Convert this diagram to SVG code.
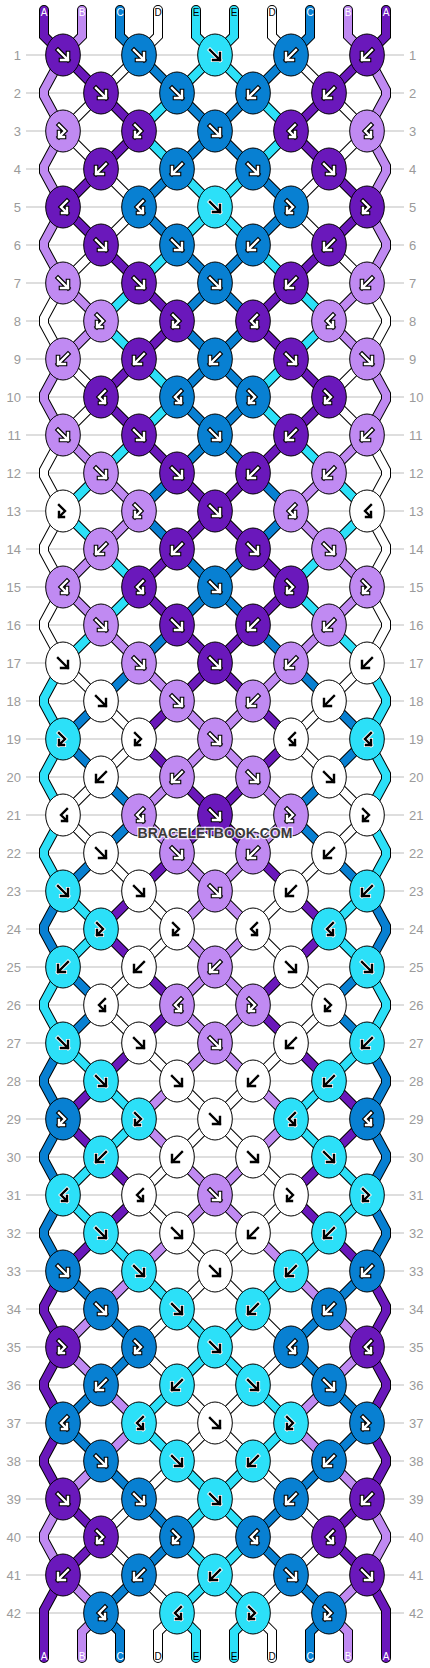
<svg xmlns="http://www.w3.org/2000/svg" width="430" height="1668" viewBox="0 0 430 1668">
<style>
.rl{fill:none;stroke:#bdbdbd;stroke-width:1}
.rn{font-family:"Liberation Sans",Arial,sans-serif;font-size:13px;fill:#9a9a9a}
.rnl{text-anchor:end}
.o{fill:none;stroke:#000;stroke-width:10;stroke-linejoin:miter;stroke-linecap:round}
.s{fill:none;stroke-width:8;stroke-linejoin:miter;stroke-linecap:round}
.sA{stroke:#6a18bb}.sB{stroke:#c08af2}.sC{stroke:#0880d2}.sD{stroke:#fff}.sE{stroke:#2ce0f8}
.cA{fill:#6a18bb}.cB{fill:#c08af2}.cC{fill:#0880d2}.cD{fill:#fff}.cE{fill:#2ce0f8}
.g1w{fill:none;stroke:#000;stroke-width:4.6;stroke-linecap:square;stroke-linejoin:miter}
.g2w{fill:none;stroke:#fff;stroke-width:2.4;stroke-linecap:square;stroke-linejoin:miter}
.g1k{fill:none;stroke:#fff;stroke-width:4.2;stroke-linecap:square;stroke-linejoin:miter}
.g2k{fill:none;stroke:#000;stroke-width:2.4;stroke-linecap:square;stroke-linejoin:miter}
.lb{font-family:"Liberation Sans",Arial,sans-serif;font-size:10px;text-anchor:middle}
.lw{fill:#fff}.lk{fill:#000}
.wm{font-family:"Liberation Sans",Arial,sans-serif;font-size:14px;font-weight:bold;text-anchor:middle;fill:#3a3a3a;stroke:#fff;stroke-width:2.5;stroke-opacity:0.8;paint-order:stroke}
</style>
<defs>
<path id="tA" d="M44,10L44,36L63,55L101,93L139,131L101,169L63,207L101,245L139,283L177,321L139,359L101,397L139,435L177,473L215,511L177,549L139,587L177,625L215,663L177,701L139,739L177,777L215,815L177,853L139,891L101,929L139,967L177,1005L139,1043L101,1081L63,1119L101,1157L139,1195L101,1233L63,1271L44,1306L44,1312L63,1347L44,1382L44,1388L63,1423L44,1458L44,1464L63,1499L101,1537L63,1575L44,1610L44,1658"/>
<path id="tB" d="M82,10L82,36L63,55L44,90L44,96L63,131L44,166L44,172L63,207L44,242L44,248L63,283L101,321L63,359L44,394L44,400L63,435L101,473L139,511L101,549L63,587L101,625L139,663L177,701L215,739L177,777L139,815L177,853L215,891L177,929L215,967L177,1005L215,1043L177,1081L139,1119L177,1157L215,1195L177,1233L139,1271L101,1309L63,1347L101,1385L139,1423L101,1461L63,1499L44,1534L44,1540L63,1575L101,1613L82,1632L82,1658"/>
<path id="tC" d="M120,10L120,36L139,55L177,93L215,131L177,169L139,207L177,245L215,283L177,321L215,359L177,397L215,435L177,473L139,511L177,549L215,587L177,625L139,663L101,701L63,739L101,777L139,815L101,853L63,891L44,926L44,932L63,967L101,1005L63,1043L44,1078L44,1084L63,1119L44,1154L44,1160L63,1195L44,1230L44,1236L63,1271L101,1309L139,1347L101,1385L63,1423L101,1461L139,1499L177,1537L139,1575L101,1613L120,1632L120,1658"/>
<path id="tD" d="M158,10L158,36L139,55L101,93L63,131L101,169L139,207L101,245L63,283L44,318L44,324L63,359L101,397L63,435L44,470L44,476L63,511L44,546L44,552L63,587L44,622L44,628L63,663L101,701L139,739L101,777L63,815L101,853L139,891L177,929L139,967L101,1005L139,1043L177,1081L215,1119L177,1157L139,1195L177,1233L215,1271L177,1309L139,1347L177,1385L215,1423L177,1461L139,1499L101,1537L139,1575L177,1613L158,1632L158,1658"/>
<path id="tE" d="M196,10L196,36L215,55L177,93L139,131L177,169L215,207L177,245L139,283L101,321L139,359L177,397L139,435L101,473L63,511L101,549L139,587L101,625L63,663L44,698L44,704L63,739L44,774L44,780L63,815L44,850L44,856L63,891L101,929L63,967L44,1002L44,1008L63,1043L101,1081L139,1119L101,1157L63,1195L101,1233L139,1271L177,1309L215,1347L177,1385L139,1423L177,1461L215,1499L177,1537L215,1575L177,1613L196,1632L196,1658"/>
<ellipse id="k" cx="0" cy="0" rx="17.3" ry="21" stroke="#000" stroke-width="1"/>
<path id="pf" d="M-5,-5L5,5M5,-2V5H-2"/>
<path id="pb" d="M5,-5L-5,5M-5,-2V5H2"/>
<path id="pfb" d="M-4,-6L2,0L-4,6M-4,1V6H1"/>
<path id="pbf" d="M4,-6L-2,0L4,6M4,1V6H-1"/>
<g id="fW"><use href="#pf" class="g1w"/><use href="#pf" class="g2w"/></g>
<g id="bW"><use href="#pb" class="g1w"/><use href="#pb" class="g2w"/></g>
<g id="fbW"><use href="#pfb" class="g1w"/><use href="#pfb" class="g2w"/></g>
<g id="bfW"><use href="#pbf" class="g1w"/><use href="#pbf" class="g2w"/></g>
<g id="fK"><use href="#pf" class="g1k"/><use href="#pf" class="g2k"/></g>
<g id="bK"><use href="#pb" class="g1k"/><use href="#pb" class="g2k"/></g>
<g id="fbK"><use href="#pfb" class="g1k"/><use href="#pfb" class="g2k"/></g>
<g id="bfK"><use href="#pbf" class="g1k"/><use href="#pbf" class="g2k"/></g>
</defs>
<rect width="430" height="1668" fill="#fff"/>
<g id="rowlines">
<path class="rl" d="M26,55H404M26,93H404M26,131H404M26,169H404M26,207H404M26,245H404M26,283H404M26,321H404M26,359H404M26,397H404M26,435H404M26,473H404M26,511H404M26,549H404M26,587H404M26,625H404M26,663H404M26,701H404M26,739H404M26,777H404M26,815H404M26,853H404M26,891H404M26,929H404M26,967H404M26,1005H404M26,1043H404M26,1081H404M26,1119H404M26,1157H404M26,1195H404M26,1233H404M26,1271H404M26,1309H404M26,1347H404M26,1385H404M26,1423H404M26,1461H404M26,1499H404M26,1537H404M26,1575H404M26,1613H404"/>
</g>
<g id="rownumbers" class="rn">
<g class="rnl">
<text x="21" y="59.5">1</text><text x="21" y="97.5">2</text><text x="21" y="135.5">3</text><text x="21" y="173.5">4</text><text x="21" y="211.5">5</text><text x="21" y="249.5">6</text><text x="21" y="287.5">7</text><text x="21" y="325.5">8</text><text x="21" y="363.5">9</text><text x="21" y="401.5">10</text><text x="21" y="439.5">11</text><text x="21" y="477.5">12</text><text x="21" y="515.5">13</text><text x="21" y="553.5">14</text><text x="21" y="591.5">15</text><text x="21" y="629.5">16</text><text x="21" y="667.5">17</text><text x="21" y="705.5">18</text><text x="21" y="743.5">19</text><text x="21" y="781.5">20</text><text x="21" y="819.5">21</text><text x="21" y="857.5">22</text><text x="21" y="895.5">23</text><text x="21" y="933.5">24</text><text x="21" y="971.5">25</text><text x="21" y="1009.5">26</text><text x="21" y="1047.5">27</text><text x="21" y="1085.5">28</text><text x="21" y="1123.5">29</text><text x="21" y="1161.5">30</text><text x="21" y="1199.5">31</text><text x="21" y="1237.5">32</text><text x="21" y="1275.5">33</text><text x="21" y="1313.5">34</text><text x="21" y="1351.5">35</text><text x="21" y="1389.5">36</text><text x="21" y="1427.5">37</text><text x="21" y="1465.5">38</text><text x="21" y="1503.5">39</text><text x="21" y="1541.5">40</text><text x="21" y="1579.5">41</text><text x="21" y="1617.5">42</text>
</g>
<g>
<text x="409" y="59.5">1</text><text x="409" y="97.5">2</text><text x="409" y="135.5">3</text><text x="409" y="173.5">4</text><text x="409" y="211.5">5</text><text x="409" y="249.5">6</text><text x="409" y="287.5">7</text><text x="409" y="325.5">8</text><text x="409" y="363.5">9</text><text x="409" y="401.5">10</text><text x="409" y="439.5">11</text><text x="409" y="477.5">12</text><text x="409" y="515.5">13</text><text x="409" y="553.5">14</text><text x="409" y="591.5">15</text><text x="409" y="629.5">16</text><text x="409" y="667.5">17</text><text x="409" y="705.5">18</text><text x="409" y="743.5">19</text><text x="409" y="781.5">20</text><text x="409" y="819.5">21</text><text x="409" y="857.5">22</text><text x="409" y="895.5">23</text><text x="409" y="933.5">24</text><text x="409" y="971.5">25</text><text x="409" y="1009.5">26</text><text x="409" y="1047.5">27</text><text x="409" y="1085.5">28</text><text x="409" y="1123.5">29</text><text x="409" y="1161.5">30</text><text x="409" y="1199.5">31</text><text x="409" y="1237.5">32</text><text x="409" y="1275.5">33</text><text x="409" y="1313.5">34</text><text x="409" y="1351.5">35</text><text x="409" y="1389.5">36</text><text x="409" y="1427.5">37</text><text x="409" y="1465.5">38</text><text x="409" y="1503.5">39</text><text x="409" y="1541.5">40</text><text x="409" y="1579.5">41</text><text x="409" y="1617.5">42</text>
</g>
</g>
<g id="connectors">
<g id="strings-left">
<use href="#tA" class="o"/><use href="#tA" class="s sA"/>
<use href="#tB" class="o"/><use href="#tB" class="s sB"/>
<use href="#tC" class="o"/><use href="#tC" class="s sC"/>
<use href="#tD" class="o"/><use href="#tD" class="s sD"/>
<use href="#tE" class="o"/><use href="#tE" class="s sE"/>
</g>
<use href="#strings-left" transform="matrix(-1 0 0 1 430 0)"/>
</g>
<g id="string-labels" class="lb">
<text class="lw" x="44" y="16">A</text><text class="lw" x="82" y="16">B</text><text class="lw" x="120" y="16">C</text><text class="lk" x="158" y="16">D</text><text class="lk" x="196" y="16">E</text><text class="lk" x="234" y="16">E</text><text class="lk" x="272" y="16">D</text><text class="lw" x="310" y="16">C</text><text class="lw" x="348" y="16">B</text><text class="lw" x="386" y="16">A</text>
<text class="lw" x="44" y="1660">A</text><text class="lw" x="82" y="1660">B</text><text class="lw" x="120" y="1660">C</text><text class="lk" x="158" y="1660">D</text><text class="lk" x="196" y="1660">E</text><text class="lk" x="234" y="1660">E</text><text class="lk" x="272" y="1660">D</text><text class="lw" x="310" y="1660">C</text><text class="lw" x="348" y="1660">B</text><text class="lw" x="386" y="1660">A</text>
</g>
<g id="knots">
<g id="k1-1" transform="translate(63 55)"><use href="#k" class="cA"/><use href="#fW"/></g>
<g id="k1-2" transform="translate(139 55)"><use href="#k" class="cC"/><use href="#fW"/></g>
<g id="k1-3" transform="translate(215 55)"><use href="#k" class="cE"/><use href="#fK"/></g>
<g id="k1-4" transform="translate(291 55)"><use href="#k" class="cC"/><use href="#bW"/></g>
<g id="k1-5" transform="translate(367 55)"><use href="#k" class="cA"/><use href="#bW"/></g>
<g id="k2-1" transform="translate(101 93)"><use href="#k" class="cA"/><use href="#fW"/></g>
<g id="k2-2" transform="translate(177 93)"><use href="#k" class="cC"/><use href="#fW"/></g>
<g id="k2-3" transform="translate(253 93)"><use href="#k" class="cC"/><use href="#bW"/></g>
<g id="k2-4" transform="translate(329 93)"><use href="#k" class="cA"/><use href="#bW"/></g>
<g id="k3-1" transform="translate(63 131)"><use href="#k" class="cB"/><use href="#fbW"/></g>
<g id="k3-2" transform="translate(139 131)"><use href="#k" class="cA"/><use href="#fbW"/></g>
<g id="k3-3" transform="translate(215 131)"><use href="#k" class="cC"/><use href="#fW"/></g>
<g id="k3-4" transform="translate(291 131)"><use href="#k" class="cA"/><use href="#bfW"/></g>
<g id="k3-5" transform="translate(367 131)"><use href="#k" class="cB"/><use href="#bfW"/></g>
<g id="k4-1" transform="translate(101 169)"><use href="#k" class="cA"/><use href="#bW"/></g>
<g id="k4-2" transform="translate(177 169)"><use href="#k" class="cC"/><use href="#bW"/></g>
<g id="k4-3" transform="translate(253 169)"><use href="#k" class="cC"/><use href="#fW"/></g>
<g id="k4-4" transform="translate(329 169)"><use href="#k" class="cA"/><use href="#fW"/></g>
<g id="k5-1" transform="translate(63 207)"><use href="#k" class="cA"/><use href="#bfW"/></g>
<g id="k5-2" transform="translate(139 207)"><use href="#k" class="cC"/><use href="#bfW"/></g>
<g id="k5-3" transform="translate(215 207)"><use href="#k" class="cE"/><use href="#fK"/></g>
<g id="k5-4" transform="translate(291 207)"><use href="#k" class="cC"/><use href="#fbW"/></g>
<g id="k5-5" transform="translate(367 207)"><use href="#k" class="cA"/><use href="#fbW"/></g>
<g id="k6-1" transform="translate(101 245)"><use href="#k" class="cA"/><use href="#fW"/></g>
<g id="k6-2" transform="translate(177 245)"><use href="#k" class="cC"/><use href="#fW"/></g>
<g id="k6-3" transform="translate(253 245)"><use href="#k" class="cC"/><use href="#bW"/></g>
<g id="k6-4" transform="translate(329 245)"><use href="#k" class="cA"/><use href="#bW"/></g>
<g id="k7-1" transform="translate(63 283)"><use href="#k" class="cB"/><use href="#fW"/></g>
<g id="k7-2" transform="translate(139 283)"><use href="#k" class="cA"/><use href="#fW"/></g>
<g id="k7-3" transform="translate(215 283)"><use href="#k" class="cC"/><use href="#fW"/></g>
<g id="k7-4" transform="translate(291 283)"><use href="#k" class="cA"/><use href="#bW"/></g>
<g id="k7-5" transform="translate(367 283)"><use href="#k" class="cB"/><use href="#bW"/></g>
<g id="k8-1" transform="translate(101 321)"><use href="#k" class="cB"/><use href="#fbW"/></g>
<g id="k8-2" transform="translate(177 321)"><use href="#k" class="cA"/><use href="#fbW"/></g>
<g id="k8-3" transform="translate(253 321)"><use href="#k" class="cA"/><use href="#bfW"/></g>
<g id="k8-4" transform="translate(329 321)"><use href="#k" class="cB"/><use href="#bfW"/></g>
<g id="k9-1" transform="translate(63 359)"><use href="#k" class="cB"/><use href="#bW"/></g>
<g id="k9-2" transform="translate(139 359)"><use href="#k" class="cA"/><use href="#bW"/></g>
<g id="k9-3" transform="translate(215 359)"><use href="#k" class="cC"/><use href="#bW"/></g>
<g id="k9-4" transform="translate(291 359)"><use href="#k" class="cA"/><use href="#fW"/></g>
<g id="k9-5" transform="translate(367 359)"><use href="#k" class="cB"/><use href="#fW"/></g>
<g id="k10-1" transform="translate(101 397)"><use href="#k" class="cA"/><use href="#bfW"/></g>
<g id="k10-2" transform="translate(177 397)"><use href="#k" class="cC"/><use href="#bfW"/></g>
<g id="k10-3" transform="translate(253 397)"><use href="#k" class="cC"/><use href="#fbW"/></g>
<g id="k10-4" transform="translate(329 397)"><use href="#k" class="cA"/><use href="#fbW"/></g>
<g id="k11-1" transform="translate(63 435)"><use href="#k" class="cB"/><use href="#fW"/></g>
<g id="k11-2" transform="translate(139 435)"><use href="#k" class="cA"/><use href="#fW"/></g>
<g id="k11-3" transform="translate(215 435)"><use href="#k" class="cC"/><use href="#fW"/></g>
<g id="k11-4" transform="translate(291 435)"><use href="#k" class="cA"/><use href="#bW"/></g>
<g id="k11-5" transform="translate(367 435)"><use href="#k" class="cB"/><use href="#bW"/></g>
<g id="k12-1" transform="translate(101 473)"><use href="#k" class="cB"/><use href="#fW"/></g>
<g id="k12-2" transform="translate(177 473)"><use href="#k" class="cA"/><use href="#fW"/></g>
<g id="k12-3" transform="translate(253 473)"><use href="#k" class="cA"/><use href="#bW"/></g>
<g id="k12-4" transform="translate(329 473)"><use href="#k" class="cB"/><use href="#bW"/></g>
<g id="k13-1" transform="translate(63 511)"><use href="#k" class="cD"/><use href="#fbK"/></g>
<g id="k13-2" transform="translate(139 511)"><use href="#k" class="cB"/><use href="#fbW"/></g>
<g id="k13-3" transform="translate(215 511)"><use href="#k" class="cA"/><use href="#fW"/></g>
<g id="k13-4" transform="translate(291 511)"><use href="#k" class="cB"/><use href="#bfW"/></g>
<g id="k13-5" transform="translate(367 511)"><use href="#k" class="cD"/><use href="#bfK"/></g>
<g id="k14-1" transform="translate(101 549)"><use href="#k" class="cB"/><use href="#bW"/></g>
<g id="k14-2" transform="translate(177 549)"><use href="#k" class="cA"/><use href="#bW"/></g>
<g id="k14-3" transform="translate(253 549)"><use href="#k" class="cA"/><use href="#fW"/></g>
<g id="k14-4" transform="translate(329 549)"><use href="#k" class="cB"/><use href="#fW"/></g>
<g id="k15-1" transform="translate(63 587)"><use href="#k" class="cB"/><use href="#bfW"/></g>
<g id="k15-2" transform="translate(139 587)"><use href="#k" class="cA"/><use href="#bfW"/></g>
<g id="k15-3" transform="translate(215 587)"><use href="#k" class="cC"/><use href="#fW"/></g>
<g id="k15-4" transform="translate(291 587)"><use href="#k" class="cA"/><use href="#fbW"/></g>
<g id="k15-5" transform="translate(367 587)"><use href="#k" class="cB"/><use href="#fbW"/></g>
<g id="k16-1" transform="translate(101 625)"><use href="#k" class="cB"/><use href="#fW"/></g>
<g id="k16-2" transform="translate(177 625)"><use href="#k" class="cA"/><use href="#fW"/></g>
<g id="k16-3" transform="translate(253 625)"><use href="#k" class="cA"/><use href="#bW"/></g>
<g id="k16-4" transform="translate(329 625)"><use href="#k" class="cB"/><use href="#bW"/></g>
<g id="k17-1" transform="translate(63 663)"><use href="#k" class="cD"/><use href="#fK"/></g>
<g id="k17-2" transform="translate(139 663)"><use href="#k" class="cB"/><use href="#fW"/></g>
<g id="k17-3" transform="translate(215 663)"><use href="#k" class="cA"/><use href="#fW"/></g>
<g id="k17-4" transform="translate(291 663)"><use href="#k" class="cB"/><use href="#bW"/></g>
<g id="k17-5" transform="translate(367 663)"><use href="#k" class="cD"/><use href="#bK"/></g>
<g id="k18-1" transform="translate(101 701)"><use href="#k" class="cD"/><use href="#fK"/></g>
<g id="k18-2" transform="translate(177 701)"><use href="#k" class="cB"/><use href="#fW"/></g>
<g id="k18-3" transform="translate(253 701)"><use href="#k" class="cB"/><use href="#bW"/></g>
<g id="k18-4" transform="translate(329 701)"><use href="#k" class="cD"/><use href="#bK"/></g>
<g id="k19-1" transform="translate(63 739)"><use href="#k" class="cE"/><use href="#fbK"/></g>
<g id="k19-2" transform="translate(139 739)"><use href="#k" class="cD"/><use href="#fbK"/></g>
<g id="k19-3" transform="translate(215 739)"><use href="#k" class="cB"/><use href="#fW"/></g>
<g id="k19-4" transform="translate(291 739)"><use href="#k" class="cD"/><use href="#bfK"/></g>
<g id="k19-5" transform="translate(367 739)"><use href="#k" class="cE"/><use href="#bfK"/></g>
<g id="k20-1" transform="translate(101 777)"><use href="#k" class="cD"/><use href="#bK"/></g>
<g id="k20-2" transform="translate(177 777)"><use href="#k" class="cB"/><use href="#bW"/></g>
<g id="k20-3" transform="translate(253 777)"><use href="#k" class="cB"/><use href="#fW"/></g>
<g id="k20-4" transform="translate(329 777)"><use href="#k" class="cD"/><use href="#fK"/></g>
<g id="k21-1" transform="translate(63 815)"><use href="#k" class="cD"/><use href="#bfK"/></g>
<g id="k21-2" transform="translate(139 815)"><use href="#k" class="cB"/><use href="#bfW"/></g>
<g id="k21-3" transform="translate(215 815)"><use href="#k" class="cA"/><use href="#fW"/></g>
<g id="k21-4" transform="translate(291 815)"><use href="#k" class="cB"/><use href="#fbW"/></g>
<g id="k21-5" transform="translate(367 815)"><use href="#k" class="cD"/><use href="#fbK"/></g>
<g id="k22-1" transform="translate(101 853)"><use href="#k" class="cD"/><use href="#fK"/></g>
<g id="k22-2" transform="translate(177 853)"><use href="#k" class="cB"/><use href="#fW"/></g>
<g id="k22-3" transform="translate(253 853)"><use href="#k" class="cB"/><use href="#bW"/></g>
<g id="k22-4" transform="translate(329 853)"><use href="#k" class="cD"/><use href="#bK"/></g>
<g id="k23-1" transform="translate(63 891)"><use href="#k" class="cE"/><use href="#fK"/></g>
<g id="k23-2" transform="translate(139 891)"><use href="#k" class="cD"/><use href="#fK"/></g>
<g id="k23-3" transform="translate(215 891)"><use href="#k" class="cB"/><use href="#fW"/></g>
<g id="k23-4" transform="translate(291 891)"><use href="#k" class="cD"/><use href="#bK"/></g>
<g id="k23-5" transform="translate(367 891)"><use href="#k" class="cE"/><use href="#bK"/></g>
<g id="k24-1" transform="translate(101 929)"><use href="#k" class="cE"/><use href="#fbK"/></g>
<g id="k24-2" transform="translate(177 929)"><use href="#k" class="cD"/><use href="#fbK"/></g>
<g id="k24-3" transform="translate(253 929)"><use href="#k" class="cD"/><use href="#bfK"/></g>
<g id="k24-4" transform="translate(329 929)"><use href="#k" class="cE"/><use href="#bfK"/></g>
<g id="k25-1" transform="translate(63 967)"><use href="#k" class="cE"/><use href="#bK"/></g>
<g id="k25-2" transform="translate(139 967)"><use href="#k" class="cD"/><use href="#bK"/></g>
<g id="k25-3" transform="translate(215 967)"><use href="#k" class="cB"/><use href="#bW"/></g>
<g id="k25-4" transform="translate(291 967)"><use href="#k" class="cD"/><use href="#fK"/></g>
<g id="k25-5" transform="translate(367 967)"><use href="#k" class="cE"/><use href="#fK"/></g>
<g id="k26-1" transform="translate(101 1005)"><use href="#k" class="cD"/><use href="#bfK"/></g>
<g id="k26-2" transform="translate(177 1005)"><use href="#k" class="cB"/><use href="#bfW"/></g>
<g id="k26-3" transform="translate(253 1005)"><use href="#k" class="cB"/><use href="#fbW"/></g>
<g id="k26-4" transform="translate(329 1005)"><use href="#k" class="cD"/><use href="#fbK"/></g>
<g id="k27-1" transform="translate(63 1043)"><use href="#k" class="cE"/><use href="#fK"/></g>
<g id="k27-2" transform="translate(139 1043)"><use href="#k" class="cD"/><use href="#fK"/></g>
<g id="k27-3" transform="translate(215 1043)"><use href="#k" class="cB"/><use href="#fW"/></g>
<g id="k27-4" transform="translate(291 1043)"><use href="#k" class="cD"/><use href="#bK"/></g>
<g id="k27-5" transform="translate(367 1043)"><use href="#k" class="cE"/><use href="#bK"/></g>
<g id="k28-1" transform="translate(101 1081)"><use href="#k" class="cE"/><use href="#fK"/></g>
<g id="k28-2" transform="translate(177 1081)"><use href="#k" class="cD"/><use href="#fK"/></g>
<g id="k28-3" transform="translate(253 1081)"><use href="#k" class="cD"/><use href="#bK"/></g>
<g id="k28-4" transform="translate(329 1081)"><use href="#k" class="cE"/><use href="#bK"/></g>
<g id="k29-1" transform="translate(63 1119)"><use href="#k" class="cC"/><use href="#fbW"/></g>
<g id="k29-2" transform="translate(139 1119)"><use href="#k" class="cE"/><use href="#fbK"/></g>
<g id="k29-3" transform="translate(215 1119)"><use href="#k" class="cD"/><use href="#fK"/></g>
<g id="k29-4" transform="translate(291 1119)"><use href="#k" class="cE"/><use href="#bfK"/></g>
<g id="k29-5" transform="translate(367 1119)"><use href="#k" class="cC"/><use href="#bfW"/></g>
<g id="k30-1" transform="translate(101 1157)"><use href="#k" class="cE"/><use href="#bK"/></g>
<g id="k30-2" transform="translate(177 1157)"><use href="#k" class="cD"/><use href="#bK"/></g>
<g id="k30-3" transform="translate(253 1157)"><use href="#k" class="cD"/><use href="#fK"/></g>
<g id="k30-4" transform="translate(329 1157)"><use href="#k" class="cE"/><use href="#fK"/></g>
<g id="k31-1" transform="translate(63 1195)"><use href="#k" class="cE"/><use href="#bfK"/></g>
<g id="k31-2" transform="translate(139 1195)"><use href="#k" class="cD"/><use href="#bfK"/></g>
<g id="k31-3" transform="translate(215 1195)"><use href="#k" class="cB"/><use href="#fW"/></g>
<g id="k31-4" transform="translate(291 1195)"><use href="#k" class="cD"/><use href="#fbK"/></g>
<g id="k31-5" transform="translate(367 1195)"><use href="#k" class="cE"/><use href="#fbK"/></g>
<g id="k32-1" transform="translate(101 1233)"><use href="#k" class="cE"/><use href="#fK"/></g>
<g id="k32-2" transform="translate(177 1233)"><use href="#k" class="cD"/><use href="#fK"/></g>
<g id="k32-3" transform="translate(253 1233)"><use href="#k" class="cD"/><use href="#bK"/></g>
<g id="k32-4" transform="translate(329 1233)"><use href="#k" class="cE"/><use href="#bK"/></g>
<g id="k33-1" transform="translate(63 1271)"><use href="#k" class="cC"/><use href="#fW"/></g>
<g id="k33-2" transform="translate(139 1271)"><use href="#k" class="cE"/><use href="#fK"/></g>
<g id="k33-3" transform="translate(215 1271)"><use href="#k" class="cD"/><use href="#fK"/></g>
<g id="k33-4" transform="translate(291 1271)"><use href="#k" class="cE"/><use href="#bK"/></g>
<g id="k33-5" transform="translate(367 1271)"><use href="#k" class="cC"/><use href="#bW"/></g>
<g id="k34-1" transform="translate(101 1309)"><use href="#k" class="cC"/><use href="#fW"/></g>
<g id="k34-2" transform="translate(177 1309)"><use href="#k" class="cE"/><use href="#fK"/></g>
<g id="k34-3" transform="translate(253 1309)"><use href="#k" class="cE"/><use href="#bK"/></g>
<g id="k34-4" transform="translate(329 1309)"><use href="#k" class="cC"/><use href="#bW"/></g>
<g id="k35-1" transform="translate(63 1347)"><use href="#k" class="cA"/><use href="#fbW"/></g>
<g id="k35-2" transform="translate(139 1347)"><use href="#k" class="cC"/><use href="#fbW"/></g>
<g id="k35-3" transform="translate(215 1347)"><use href="#k" class="cE"/><use href="#fK"/></g>
<g id="k35-4" transform="translate(291 1347)"><use href="#k" class="cC"/><use href="#bfW"/></g>
<g id="k35-5" transform="translate(367 1347)"><use href="#k" class="cA"/><use href="#bfW"/></g>
<g id="k36-1" transform="translate(101 1385)"><use href="#k" class="cC"/><use href="#bW"/></g>
<g id="k36-2" transform="translate(177 1385)"><use href="#k" class="cE"/><use href="#bK"/></g>
<g id="k36-3" transform="translate(253 1385)"><use href="#k" class="cE"/><use href="#fK"/></g>
<g id="k36-4" transform="translate(329 1385)"><use href="#k" class="cC"/><use href="#fW"/></g>
<g id="k37-1" transform="translate(63 1423)"><use href="#k" class="cC"/><use href="#bfW"/></g>
<g id="k37-2" transform="translate(139 1423)"><use href="#k" class="cE"/><use href="#bfK"/></g>
<g id="k37-3" transform="translate(215 1423)"><use href="#k" class="cD"/><use href="#fK"/></g>
<g id="k37-4" transform="translate(291 1423)"><use href="#k" class="cE"/><use href="#fbK"/></g>
<g id="k37-5" transform="translate(367 1423)"><use href="#k" class="cC"/><use href="#fbW"/></g>
<g id="k38-1" transform="translate(101 1461)"><use href="#k" class="cC"/><use href="#fW"/></g>
<g id="k38-2" transform="translate(177 1461)"><use href="#k" class="cE"/><use href="#fK"/></g>
<g id="k38-3" transform="translate(253 1461)"><use href="#k" class="cE"/><use href="#bK"/></g>
<g id="k38-4" transform="translate(329 1461)"><use href="#k" class="cC"/><use href="#bW"/></g>
<g id="k39-1" transform="translate(63 1499)"><use href="#k" class="cA"/><use href="#fW"/></g>
<g id="k39-2" transform="translate(139 1499)"><use href="#k" class="cC"/><use href="#fW"/></g>
<g id="k39-3" transform="translate(215 1499)"><use href="#k" class="cE"/><use href="#fK"/></g>
<g id="k39-4" transform="translate(291 1499)"><use href="#k" class="cC"/><use href="#bW"/></g>
<g id="k39-5" transform="translate(367 1499)"><use href="#k" class="cA"/><use href="#bW"/></g>
<g id="k40-1" transform="translate(101 1537)"><use href="#k" class="cA"/><use href="#fbW"/></g>
<g id="k40-2" transform="translate(177 1537)"><use href="#k" class="cC"/><use href="#fbW"/></g>
<g id="k40-3" transform="translate(253 1537)"><use href="#k" class="cC"/><use href="#bfW"/></g>
<g id="k40-4" transform="translate(329 1537)"><use href="#k" class="cA"/><use href="#bfW"/></g>
<g id="k41-1" transform="translate(63 1575)"><use href="#k" class="cA"/><use href="#bW"/></g>
<g id="k41-2" transform="translate(139 1575)"><use href="#k" class="cC"/><use href="#bW"/></g>
<g id="k41-3" transform="translate(215 1575)"><use href="#k" class="cE"/><use href="#bK"/></g>
<g id="k41-4" transform="translate(291 1575)"><use href="#k" class="cC"/><use href="#fW"/></g>
<g id="k41-5" transform="translate(367 1575)"><use href="#k" class="cA"/><use href="#fW"/></g>
<g id="k42-1" transform="translate(101 1613)"><use href="#k" class="cC"/><use href="#bfW"/></g>
<g id="k42-2" transform="translate(177 1613)"><use href="#k" class="cE"/><use href="#bfK"/></g>
<g id="k42-3" transform="translate(253 1613)"><use href="#k" class="cE"/><use href="#fbK"/></g>
<g id="k42-4" transform="translate(329 1613)"><use href="#k" class="cC"/><use href="#fbW"/></g>
</g>
<text id="watermark" class="wm" x="215" y="838">BRACELETBOOK.COM</text>
</svg>
